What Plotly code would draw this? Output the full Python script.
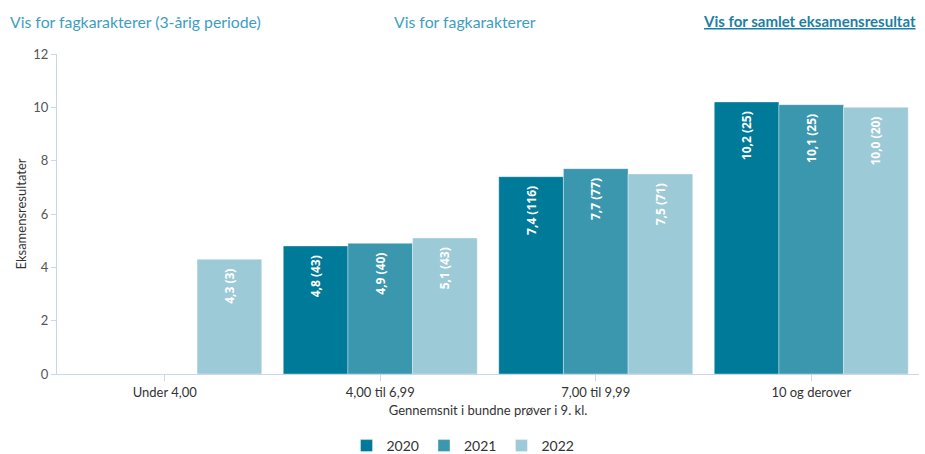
import plotly.graph_objects as go

# Data
CATEGORIES = ["Under 4,00", "4,00 til 6,99", "7,00 til 9,99", "10 og derover"]
YEARS = ["2020", "2021", "2022"]
VALUES = {
    "2020": [None, 4.8, 7.4, 10.2],
    "2021": [None, 4.9, 7.7, 10.1],
    "2022": [4.3, 5.1, 7.5, 10.0],
}
COUNTS = {
    "2020": [None, 43, 116, 25],
    "2021": [None, 40, 77, 25],
    "2022": [3, 43, 71, 20],
}
Y_TICKS = [0, 2, 4, 6, 8, 10, 12]

COLOURS = {"2020": "#007A99", "2021": "#3B97AE", "2022": "#9DCAD7"}
FONT = "Lato, 'Open Sans', sans-serif"
AXIS_GREY = "#CCD6EB"
LINK = "#3C9EC0"

W, H = 925, 454
ML, MR, MT, MB = 57, 6, 54, 80
PW, PH = W - ML - MR, H - MT - MB


def fmt(v, n):
    if v is None:
        return ""
    # trailing spaces keep the label a little below the bar top
    return f"{v:.1f}".replace(".", ",") + f" ({n})\u00a0\u00a0"


def px_x(x):
    return (x - ML) / PW


def px_y(y):
    return (H - MB - y) / PH


fig = go.Figure()
for yr in YEARS:
    fig.add_trace(
        go.Bar(
            x=CATEGORIES,
            y=VALUES[yr],
            name=yr,
            marker=dict(color=COLOURS[yr], line=dict(color="rgba(255,255,255,0.6)", width=0.6)),
            text=[fmt(v, n) for v, n in zip(VALUES[yr], COUNTS[yr])],
            textposition="inside",
            insidetextanchor="end",
            textangle=-90,
            textfont=dict(color="white", size=12, family="Open Sans"),
            texttemplate="<b>%{text}</b>",
        )
    )

fig.update_layout(
    width=W,
    height=H,
    barmode="group",
    bargap=0.1,
    bargroupgap=0,
    plot_bgcolor="white",
    paper_bgcolor="white",
    font=dict(family=FONT, color="#333333", size=13),
    margin=dict(l=ML, r=MR, t=MT, b=MB, autoexpand=False),
    showlegend=True,
    legend=dict(
        orientation="h",
        x=px_x(463),
        xanchor="center",
        y=px_y(430),
        yanchor="top",
        font=dict(size=14, color="#333333"),
        traceorder="normal",
        itemwidth=30,
    ),
    uniformtext=dict(minsize=10, mode="show"),
)

fig.update_xaxes(
    automargin=False,
    showline=True,
    linecolor=AXIS_GREY,
    linewidth=1,
    ticks="outside",
    tickcolor=AXIS_GREY,
    ticklen=6,
    tickfont=dict(size=13, color="#333333"),
    title=dict(text="Gennemsnit i bundne prøver i 9. kl.", font=dict(size=13, color="#333333"), standoff=7),
)
fig.update_yaxes(
    automargin=False,
    range=[0, 12],
    tickvals=Y_TICKS,
    showgrid=False,
    zeroline=False,
    showline=True,
    linecolor=AXIS_GREY,
    linewidth=1,
    ticks="outside",
    tickcolor=AXIS_GREY,
    ticklen=5,
    tickfont=dict(size=13, color="#555555"),
    title=dict(text="Eksamensresultater", font=dict(size=13, color="#333333"), standoff=3),
)

# Link-style tabs across the top
for txt, xpos, anchor, colour, size in [
    ("Vis for fagkarakterer (3-årig periode)", 8, "left", LINK, 15.8),
    ("Vis for fagkarakterer", 465, "center", LINK, 15.8),
    ("<u><b>Vis for samlet eksamensresultat</b></u>", 918, "right", "#1C7FA3", 15),
]:
    fig.add_annotation(
        x=px_x(xpos), xref="paper", xanchor=anchor,
        y=px_y(21), yref="paper", yanchor="middle",
        text=txt, showarrow=False,
        font=dict(size=size, color=colour, family=FONT),
    )

# drop the default body margin so the figure fills the window exactly
fig.write_html(
    "out.html",
    config={"displayModeBar": False},
    post_script="document.body.style.margin='0'; document.body.style.overflow='hidden';",
)
